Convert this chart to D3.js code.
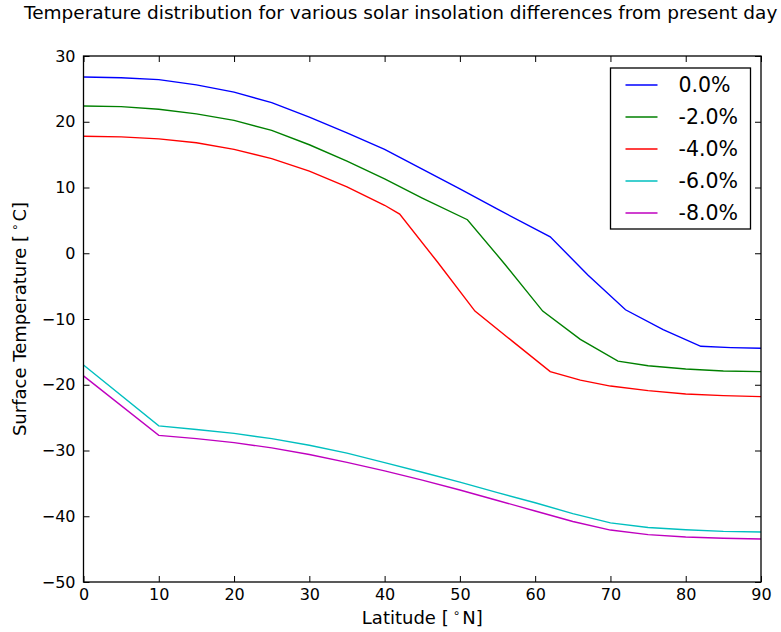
<!DOCTYPE html>
<html>
<head>
<meta charset="utf-8">
<script src="https://cdn.jsdelivr.net/npm/d3@7"></script>
<style>
  body { margin: 0; background: #fff; }
  text { font-family: "DejaVu Sans", sans-serif; fill: #000; }
</style>
</head>
<body>
<div id="wrapper"></div>
<script>
// DATA
const seriesLabels = ["0.0%", "-2.0%", "-4.0%", "-6.0%", "-8.0%"];
const seriesColors = ["#0000ff", "#008000", "#ff0000", "#00bfbf", "#bf00bf"];

const lat0 = [0, 5, 10, 15, 20, 25, 30, 35, 40, 45, 50, 55, 62, 67, 72, 77, 82, 86, 90];
const temp0 = [26.8, 26.7, 26.4, 25.6, 24.5, 22.9, 20.7, 18.3, 15.8, 12.8, 9.8, 6.7, 2.5, -3.3, -8.6, -11.6, -14.15, -14.35, -14.45];

const lat2 = [0, 5, 10, 15, 20, 25, 30, 35, 40, 45, 51, 56, 61, 66, 71, 75, 80, 85, 90];
const temp2 = [22.4, 22.3, 21.9, 21.2, 20.2, 18.7, 16.5, 14.0, 11.3, 8.4, 5.1, -1.7, -8.8, -13.1, -16.4, -17.1, -17.6, -17.9, -18.0];

const lat4 = [0, 5, 10, 15, 20, 25, 30, 35, 40, 42, 47, 52, 57, 62, 66, 70, 75, 80, 85, 90];
const temp4 = [17.8, 17.7, 17.4, 16.8, 15.8, 14.4, 12.5, 10.1, 7.3, 5.95, -1.3, -8.8, -13.4, -18.0, -19.3, -20.2, -20.9, -21.4, -21.65, -21.8];

const lat6 = [0, 10, 15, 20, 25, 30, 35, 40, 45, 50, 55, 60, 65, 70, 75, 80, 85, 90];
const temp6 = [-17.0, -26.25, -26.8, -27.4, -28.2, -29.2, -30.4, -31.85, -33.3, -34.8, -36.4, -37.95, -39.6, -41.0, -41.7, -42.05, -42.3, -42.4];

const lat8 = [0, 10, 15, 20, 25, 30, 35, 40, 45, 50, 55, 60, 65, 70, 75, 80, 85, 90];
const temp8 = [-18.65, -27.7, -28.2, -28.8, -29.6, -30.6, -31.8, -33.1, -34.5, -36.0, -37.6, -39.2, -40.8, -42.1, -42.8, -43.15, -43.35, -43.45];

const xTicks = [0, 10, 20, 30, 40, 50, 60, 70, 80, 90];
const yTicks = [-50, -40, -30, -20, -10, 0, 10, 20, 30];

const titleText = "Temperature distribution for various solar insolation differences from present day";

// build series from the arrays
const lats = [lat0, lat2, lat4, lat6, lat8];
const temps = [temp0, temp2, temp4, temp6, temp8];
const dataset = seriesLabels.map((label, i) => ({
  label: label,
  color: seriesColors[i],
  values: lats[i].map((lat, j) => ({ lat: lat, temp: temps[i][j] })),
}));

const xAccessor = (d) => d.lat;
const yAccessor = (d) => d.temp;

// DIMENSIONS
let dimensions = {
  width: 781,
  height: 632,
  margin: { top: 56, right: 20, bottom: 50, left: 83.5 },
};
dimensions.boundedWidth = dimensions.width - dimensions.margin.left - dimensions.margin.right;
dimensions.boundedHeight = dimensions.height - dimensions.margin.top - dimensions.margin.bottom;

const wrapper = d3
  .select("#wrapper")
  .append("svg")
  .attr("width", dimensions.width)
  .attr("height", dimensions.height);

const bounds = wrapper
  .append("g")
  .attr("transform", `translate(${dimensions.margin.left},${dimensions.margin.top})`);

// SCALES
const xScale = d3.scaleLinear().domain([0, 90]).range([0, dimensions.boundedWidth]);
const yScale = d3.scaleLinear().domain([-50, 30]).range([dimensions.boundedHeight, 0]);

// LINES
const lineGenerator = d3
  .line()
  .x((d) => xScale(xAccessor(d)))
  .y((d) => yScale(yAccessor(d)));

bounds
  .selectAll(".series")
  .data(dataset)
  .join("path")
  .attr("class", "series")
  .attr("d", (d) => lineGenerator(d.values))
  .attr("fill", "none")
  .attr("stroke", (d) => d.color)
  .attr("stroke-width", 1.4);

// AXES (ticks point inward, on all four sides)
const tickLen = 6;
const styleAxis = (g) => {
  g.select(".domain").remove();
  g.selectAll(".tick line").attr("stroke", "#000").attr("stroke-width", 1);
  g.selectAll(".tick text").attr("font-size", 16).attr("font-family", "DejaVu Sans, sans-serif");
};

bounds
  .append("g")
  .attr("transform", `translate(0,${dimensions.boundedHeight})`)
  .call(d3.axisBottom(xScale).tickValues(xTicks).tickSizeInner(-tickLen).tickSizeOuter(0).tickPadding(7))
  .call(styleAxis);

bounds
  .append("g")
  .call(d3.axisLeft(yScale).tickValues(yTicks).tickSizeInner(-tickLen).tickSizeOuter(0).tickPadding(8))
  .call(styleAxis);

bounds
  .append("g")
  .call(d3.axisTop(xScale).tickValues(xTicks).tickSizeInner(-tickLen).tickSizeOuter(0).tickFormat(""))
  .call(styleAxis);

bounds
  .append("g")
  .attr("transform", `translate(${dimensions.boundedWidth},0)`)
  .call(d3.axisRight(yScale).tickValues(yTicks).tickSizeInner(-tickLen).tickSizeOuter(0).tickFormat(""))
  .call(styleAxis);

// frame
bounds
  .append("rect")
  .attr("width", dimensions.boundedWidth)
  .attr("height", dimensions.boundedHeight)
  .attr("fill", "none")
  .attr("stroke", "#000")
  .attr("stroke-width", 1.3);

// TITLE & AXIS LABELS
wrapper
  .append("text")
  .attr("x", 24)
  .attr("y", 19)
  .attr("text-anchor", "start")
  .attr("font-size", 18.5)
  .text(titleText);

const xLabel = wrapper
  .append("text")
  .attr("x", dimensions.margin.left + dimensions.boundedWidth / 2)
  .attr("y", 623.5)
  .attr("text-anchor", "middle")
  .attr("font-size", 18);
xLabel.append("tspan").text("Latitude [");
xLabel.append("tspan").attr("font-size", 12).attr("dy", -7).attr("dx", 4).text("\u2218");
xLabel.append("tspan").attr("dy", 7).attr("dx", 2).text("N]");

const yLabel = wrapper
  .append("text")
  .attr("transform", `translate(26,${dimensions.margin.top + dimensions.boundedHeight / 2}) rotate(-90)`)
  .attr("text-anchor", "middle")
  .attr("font-size", 18);
yLabel.append("tspan").text("Surface Temperature [");
yLabel.append("tspan").attr("font-size", 12).attr("dy", -7).attr("dx", 4).text("\u2218");
yLabel.append("tspan").attr("dy", 7).attr("dx", 2).text("C]");

// LEGEND
const legend = wrapper.append("g").attr("transform", "translate(610.5,68)");
legend
  .append("rect")
  .attr("width", 140)
  .attr("height", 161)
  .attr("fill", "#fff")
  .attr("stroke", "#000")
  .attr("stroke-width", 1.3);

const legendRows = legend
  .selectAll(".row")
  .data(dataset)
  .join("g")
  .attr("class", "row")
  .attr("transform", (d, i) => `translate(0,${17 + i * 32})`);

legendRows
  .append("line")
  .attr("x1", 15)
  .attr("x2", 47)
  .attr("stroke", (d) => d.color)
  .attr("stroke-width", 1.4);

legendRows
  .append("text")
  .attr("x", 68)
  .attr("dy", "0.36em")
  .attr("font-size", 20.5)
  .text((d) => d.label);
</script>
</body>
</html>
